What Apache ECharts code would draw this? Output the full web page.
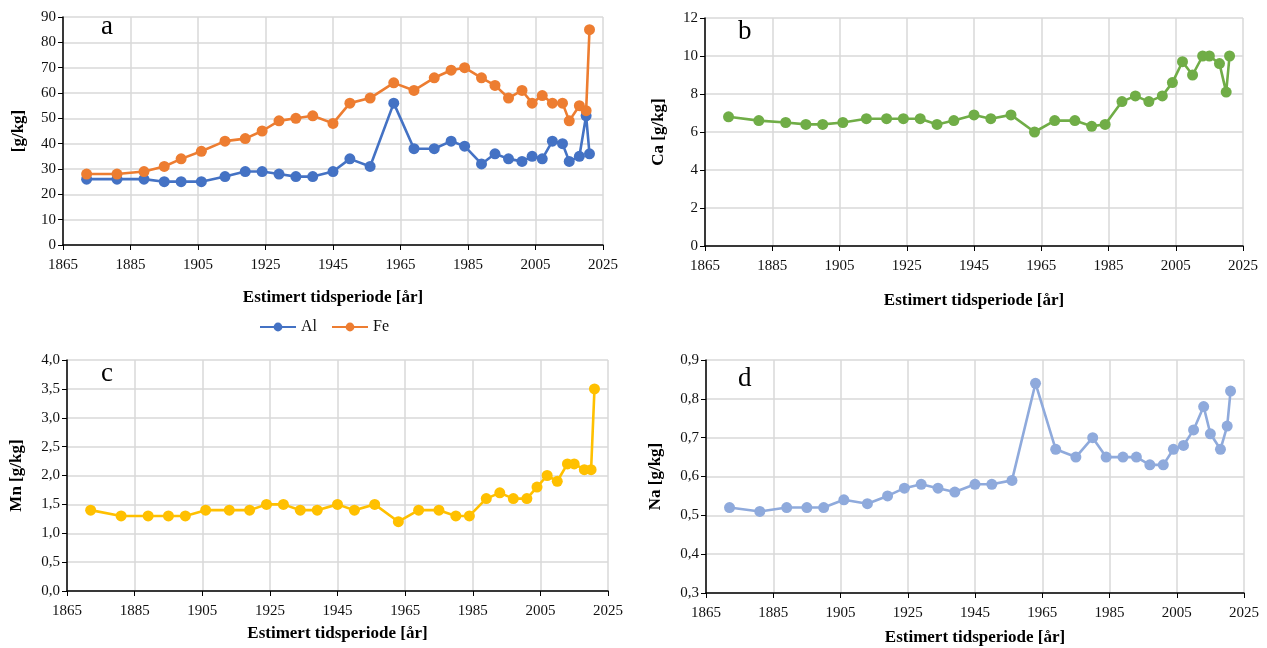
<!DOCTYPE html>
<html><head><meta charset="utf-8">
<script src="https://cdn.jsdelivr.net/npm/echarts@6/dist/echarts.min.js"></script>
<style>html,body{margin:0;padding:0;background:#fff}#c{width:1267px;height:648px}</style>
</head><body><div id="c"></div>
<script>
const years = [1872,1881,1889,1895,1900,1906,1913,1919,1924,1929,1934,1939,1945,1950,1956,1963,1969,1975,1980,1984,1989,1993,1997,2001,2004,2007,2010,2013,2015,2018,2020,2021];
const Al = [26,26,26,25,25,25,27,29,29,28,27,27,29,34,31,56,38,38,41,39,32,36,34,33,35,34,41,40,33,35,51,36];
const Fe = [28,28,29,31,34,37,41,42,45,49,50,51,48,56,58,64,61,66,69,70,66,63,58,61,56,59,56,56,49,55,53,85];
const Ca = [6.8,6.6,6.5,6.4,6.4,6.5,6.7,6.7,6.7,6.7,6.4,6.6,6.9,6.7,6.9,6.0,6.6,6.6,6.3,6.4,7.6,7.9,7.6,7.9,8.6,9.7,9.0,10.0,10.0,9.6,8.1,10.0];
const Mn = [1.4,1.3,1.3,1.3,1.3,1.4,1.4,1.4,1.5,1.5,1.4,1.4,1.5,1.4,1.5,1.2,1.4,1.4,1.3,1.3,1.6,1.7,1.6,1.6,1.8,2.0,1.9,2.2,2.2,2.1,2.1,3.5];
const Na = [0.52,0.51,0.52,0.52,0.52,0.54,0.53,0.55,0.57,0.58,0.57,0.56,0.58,0.58,0.59,0.84,0.67,0.65,0.70,0.65,0.65,0.65,0.63,0.63,0.67,0.68,0.72,0.78,0.71,0.67,0.73,0.82];
const xName = 'Estimert tidsperiode [år]';
const panelLetters = ['a','b','c','d'];
const legendNames = ['Al','Fe'];

const FONT = 'Liberation Serif';
const pairs = arr => years.map((y,i)=>[y,arr[i]]);
const grids = [
  {left:63, top:17, width:540, height:228},
  {left:705, top:18, width:538, height:228},
  {left:67, top:360, width:541, height:231},
  {left:706, top:360, width:538, height:233}
];
const comma = v => v.toFixed(1).replace('.', ',');
function xAxis(i, gap){
  return {type:'value', gridIndex:i, min:1865, max:2025, interval:20,
    name:xName, nameLocation:'middle', nameGap:gap,
    nameTextStyle:{fontFamily:FONT, fontWeight:'bold', fontSize:17, color:'#000'},
    axisLine:{show:true, onZero:false, lineStyle:{color:'#000', width:1.5}},
    axisTick:{show:true, length:5, lineStyle:{color:'#000'}},
    axisLabel:{fontFamily:FONT, fontSize:15, color:'#111', margin:13, formatter: v=>String(v)},
    splitLine:{show:true, lineStyle:{color:'#d9d9d9', width:1.5}}};
}
function yAxis(i, name, min, max, interval, gap, fmt){
  return {type:'value', gridIndex:i, min:min, max:max, interval:interval,
    name:name, nameLocation:'middle', nameGap:gap, nameRotate:90,
    nameTextStyle:{fontFamily:FONT, fontWeight:'bold', fontSize:17, color:'#000'},
    axisLine:{show:true, lineStyle:{color:'#000', width:1.5}},
    axisTick:{show:true, length:5, lineStyle:{color:'#000'}},
    axisLabel:{fontFamily:FONT, fontSize:15, color:'#111', margin:7, formatter: fmt},
    splitLine:{show:true, lineStyle:{color:'#d9d9d9', width:1.5}}};
}
function line(name, data, color, i){
  return {type:'line', name:name, xAxisIndex:i, yAxisIndex:i, data:pairs(data),
    symbol:'circle', symbolSize:11, color:color,
    lineStyle:{color:color, width:2.6}, itemStyle:{color:color}, animation:false};
}
const option = {
  animation:false,
  grid: grids,
  title: [
    {text:panelLetters[0], left:96, top:8},
    {text:panelLetters[1], left:733, top:13},
    {text:panelLetters[2], left:96, top:355},
    {text:panelLetters[3], left:733, top:360}
  ].map(t=>Object.assign(t,{textStyle:{fontFamily:FONT, fontSize:27, fontWeight:'normal', color:'#000'}})),
  legend: {data:legendNames, left:254, top:314, itemWidth:36, itemHeight:11, itemGap:14,
    textStyle:{fontFamily:FONT, fontSize:16, color:'#111'}},
  xAxis: [xAxis(0,44), xAxis(1,46), xAxis(2,34), xAxis(3,36)],
  yAxis: [
    yAxis(0,'[g/kg]',0,90,10,36, v=>String(v)),
    yAxis(1,'Ca [g/kg]',0,12,2,38, v=>String(v)),
    yAxis(2,'Mn [g/kg]',0,4,0.5,42, comma),
    yAxis(3,'Na [g/kg]',0.3,0.9,0.1,42, comma)
  ],
  series: [
    line('Al', Al, '#4472C4', 0),
    line('Fe', Fe, '#ED7D31', 0),
    line('Ca', Ca, '#70AD47', 1),
    line('Mn', Mn, '#FFC000', 2),
    line('Na', Na, '#8FAADC', 3)
  ]
};
echarts.init(document.getElementById('c'), null, {renderer:'canvas'}).setOption(option);
</script></body></html>
